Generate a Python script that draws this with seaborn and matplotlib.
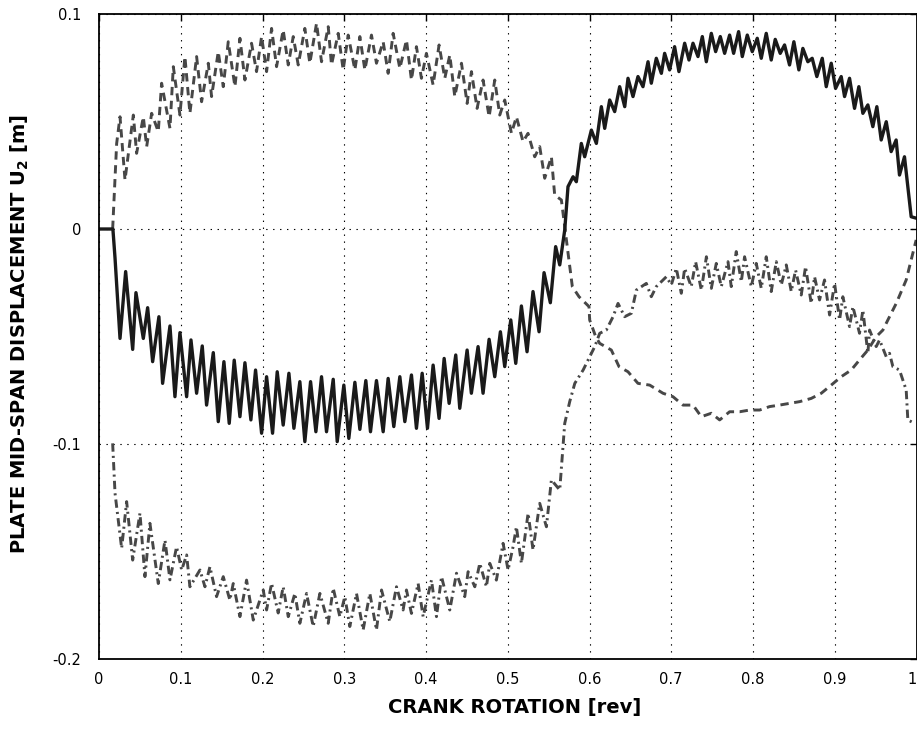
import matplotlib
matplotlib.use("Agg")
import matplotlib.pyplot as plt
import pandas as pd
import seaborn as sns

# ---------------- data ----------------
solid_x = [0.0, 0.017, 0.0196, 0.0257, 0.0326, 0.0412, 0.0452, 0.0542, 0.0595, 0.0656,
           0.0733, 0.0778, 0.0868, 0.0929, 0.099, 0.1072, 0.1125, 0.1194, 0.1263, 0.1316,
           0.1398, 0.1459, 0.1528, 0.1593, 0.1654, 0.1724, 0.1785, 0.1858, 0.1915, 0.1989,
           0.205, 0.2123, 0.218, 0.2253, 0.2323, 0.2384, 0.2457, 0.2518, 0.2588, 0.2653,
           0.2722, 0.2783, 0.2865, 0.2914, 0.2995, 0.3056, 0.313, 0.3191, 0.3264, 0.3321,
           0.3394, 0.3476, 0.3537,
           0.3606, 0.368, 0.3741, 0.3822, 0.3883, 0.3953, 0.4018, 0.4087, 0.416, 0.4222,
           0.4283, 0.4364, 0.4413, 0.4503, 0.4555, 0.4637, 0.4698, 0.4772, 0.4841, 0.491,
           0.4963, 0.5037, 0.5098, 0.5167, 0.5236, 0.5309, 0.5383, 0.5444, 0.5521, 0.5586,
           0.5636,
           0.5697, 0.5737, 0.5799, 0.5839, 0.59, 0.5941, 0.6023, 0.6084, 0.6145, 0.6186,
           0.6247, 0.6308, 0.6369, 0.6431, 0.6471, 0.6532, 0.6593, 0.6654, 0.6716, 0.6756,
           0.6817, 0.6879, 0.6919, 0.698, 0.7041,
           0.7094, 0.7164, 0.7217, 0.7266, 0.7327, 0.738, 0.7429, 0.749, 0.7543, 0.76,
           0.7653, 0.7714, 0.7763, 0.7824, 0.7869, 0.793, 0.7991, 0.8052, 0.8101, 0.8162,
           0.8223, 0.8272, 0.8333, 0.8386, 0.8447, 0.85, 0.8561, 0.861, 0.8671, 0.8724,
           0.8781, 0.8847, 0.8896, 0.8957, 0.901, 0.9079, 0.912, 0.9181, 0.9242, 0.9295,
           0.9344, 0.9405, 0.9466, 0.9515, 0.9568, 0.963, 0.969, 0.9751, 0.9792, 0.9853,
           0.9935, 1.0]
solid_y = [0.0, 0.0, -0.0135, -0.0509, -0.0198, -0.056, -0.0296, -0.0509, -0.0366, -0.0617,
           -0.0408, -0.0718, -0.0451, -0.078, -0.0482, -0.078, -0.0516, -0.0764, -0.0544, -0.0819,
           -0.0575, -0.0896, -0.0617, -0.0904, -0.061, -0.0873, -0.0622, -0.0888, -0.0656, -0.095,
           -0.0687, -0.095, -0.0664, -0.0912, -0.0671, -0.0927, -0.071, -0.0989, -0.071, -0.0943,
           -0.0687, -0.0943, -0.0699, -0.0989, -0.0726, -0.0974, -0.0713, -0.0932, -0.0705, -0.0943,
           -0.0705, -0.0943, -0.0695,
           -0.0919, -0.0687, -0.0896, -0.0679, -0.0927, -0.0671, -0.0927, -0.0633, -0.0881, -0.0602,
           -0.0811, -0.0586, -0.0834, -0.0563, -0.0764, -0.0547, -0.0764, -0.0513, -0.0687, -0.0478,
           -0.064, -0.0423, -0.0625, -0.0358, -0.0571, -0.0291, -0.0478, -0.0203, -0.0343, -0.0082,
           -0.0167,
           -0.0005, 0.0197, 0.0243, 0.022, 0.0398, 0.0336, 0.046, 0.0398, 0.0569, 0.0468,
           0.06, 0.0546, 0.0662, 0.0569, 0.0701, 0.0616, 0.0709, 0.0662, 0.0778, 0.0678,
           0.0794, 0.0724, 0.0817, 0.074, 0.0848,
           0.0732, 0.0864, 0.0786, 0.0864, 0.0802, 0.0895, 0.0778, 0.091, 0.0825, 0.0895,
           0.0817, 0.0902, 0.0817, 0.0918, 0.0802, 0.0902, 0.0825, 0.0887, 0.0794, 0.091,
           0.0786, 0.0882, 0.0817, 0.0856, 0.0763, 0.0871, 0.074, 0.084, 0.0778, 0.0794,
           0.0709, 0.0794, 0.0662, 0.0771, 0.0654, 0.0709, 0.0616, 0.0701, 0.0561, 0.0662,
           0.0538, 0.0577, 0.0476, 0.0569, 0.0414, 0.0499, 0.036, 0.0414, 0.0251, 0.0336,
           0.0057, 0.005]

dashed_x = [0.0167, 0.0216, 0.0257, 0.0318, 0.042, 0.046, 0.0542, 0.0583, 0.0644, 0.0725,
            0.0766, 0.0868, 0.0909, 0.099, 0.1051, 0.1112, 0.1194, 0.1255, 0.1337, 0.1377,
            0.1459, 0.152, 0.1581, 0.1663, 0.1724, 0.1785, 0.1866, 0.1927, 0.1989, 0.205,
            0.2111, 0.2172, 0.2253, 0.2315, 0.2376, 0.2437, 0.2518, 0.2579, 0.2661, 0.2722,
            0.2804, 0.2844, 0.2926, 0.2987, 0.3048, 0.313, 0.3191, 0.3252, 0.3333, 0.3394,
            0.3476,
            0.3537, 0.3598, 0.368, 0.3761, 0.3822, 0.3883, 0.3944, 0.4005, 0.4087, 0.416,
            0.423, 0.4291, 0.4352, 0.4434, 0.4503, 0.4556, 0.4625, 0.4698, 0.4772, 0.4841,
            0.4902, 0.4963, 0.5045, 0.5106, 0.5187, 0.5248, 0.533, 0.5391, 0.5452, 0.5534,
            0.5574, 0.5656,
            0.5738, 0.579, 0.5872, 0.5994, 0.6002, 0.6076, 0.6125, 0.6267, 0.6361, 0.6471,
            0.6593, 0.6736, 0.6899, 0.7021, 0.7143, 0.7266, 0.7368, 0.749, 0.7592, 0.7714,
            0.7837, 0.7959, 0.8081, 0.8203, 0.8325, 0.8447, 0.857, 0.8712, 0.8835, 0.8957,
            0.9079, 0.9201, 0.9303, 0.9405, 0.9507, 0.9589, 0.965, 0.9752, 0.9874, 0.9955,
            0.9996]
dashed_y = [0.0, 0.0398, 0.0522, 0.0228, 0.053, 0.0352, 0.0522, 0.0383, 0.0538, 0.0453,
            0.0678, 0.0468, 0.0755, 0.053, 0.0802, 0.0538, 0.0802, 0.0592, 0.0771, 0.0616,
            0.0825, 0.0662, 0.0871, 0.0662, 0.0887, 0.0693, 0.0864, 0.0732, 0.0895, 0.0732,
            0.0933, 0.0755, 0.0926, 0.0763, 0.0895, 0.0763, 0.0933, 0.0771, 0.0957, 0.0778,
            0.0941, 0.0763, 0.091, 0.074, 0.0902, 0.074, 0.0895, 0.074, 0.0902, 0.0771,
            0.0871,
            0.0724, 0.091, 0.0747, 0.0879, 0.0693, 0.0848, 0.0701, 0.0817, 0.067, 0.0856,
            0.0701, 0.0809, 0.0616, 0.0771, 0.0584, 0.0732, 0.0561, 0.0693, 0.0522, 0.0693,
            0.053, 0.06, 0.0445, 0.0522, 0.0406, 0.0445, 0.0336, 0.0383, 0.0236, 0.0336,
            0.0158, 0.0135,
            -0.0113, -0.0268, -0.0315, -0.0361, -0.0423, -0.0501, -0.0532, -0.0563, -0.064, -0.0664,
            -0.0718, -0.0726, -0.0764, -0.078, -0.0819, -0.0819, -0.0873, -0.0857, -0.0888, -0.085,
            -0.085, -0.0842, -0.0842, -0.0826, -0.0819, -0.0811, -0.0803, -0.0788, -0.0764, -0.0726,
            -0.0687, -0.0656, -0.0609, -0.0563, -0.0501, -0.047, -0.0423, -0.0346, -0.0237, -0.0113,
            -0.0051]

dashdot_x = [0.0167, 0.0196, 0.0277, 0.0338, 0.0412, 0.0501, 0.0562, 0.0623, 0.0725, 0.0807,
             0.0868, 0.0949, 0.1011, 0.1072, 0.1112, 0.1235, 0.1296, 0.1357, 0.1438, 0.152,
             0.1601, 0.1642, 0.1724, 0.1805, 0.1887, 0.2009, 0.205, 0.2111, 0.2192, 0.2253,
             0.2315, 0.2396, 0.2457, 0.2539, 0.262, 0.2702, 0.2804, 0.2865, 0.2946, 0.3007,
             0.3068, 0.315, 0.3231, 0.3313, 0.3394, 0.3456,
             0.3557, 0.3639, 0.372, 0.3761, 0.3822, 0.3904, 0.3965, 0.4067, 0.4128, 0.419,
             0.4291, 0.4373, 0.4474, 0.4515, 0.4597, 0.4658, 0.4739, 0.478, 0.4861, 0.4943,
             0.5004, 0.5065, 0.5106, 0.5167, 0.5249, 0.5309, 0.5391, 0.5473, 0.5534, 0.5636,
             0.5685,
             0.5697, 0.5758, 0.582, 0.5922, 0.6003, 0.6064, 0.6125, 0.6206, 0.6288, 0.6349,
             0.643, 0.6512, 0.6573, 0.6695, 0.6756, 0.6817, 0.694, 0.7001, 0.7062,
             0.7123, 0.7164, 0.7245, 0.7298, 0.7368, 0.743, 0.749, 0.7551, 0.7612, 0.7694,
             0.7734, 0.7795, 0.7857, 0.7897, 0.7979, 0.804, 0.8101, 0.8162, 0.8223, 0.8285,
             0.8346, 0.8407, 0.8468, 0.8521, 0.859, 0.8643, 0.8712, 0.8753, 0.8814, 0.8875,
             0.8937, 0.8998, 0.9059, 0.9099, 0.9181, 0.9222, 0.9303, 0.9344, 0.9405, 0.9426,
             0.9507, 0.9548, 0.963, 0.967, 0.9711, 0.9792, 0.9874, 0.9894, 0.9976]
dashdot_y = [-0.0997, -0.1229, -0.1485, -0.1268, -0.154, -0.1322, -0.1617, -0.1369, -0.1649, -0.1447,
             -0.1632, -0.1478, -0.1586, -0.1516, -0.1664, -0.1586, -0.1664, -0.1571, -0.171, -0.1617,
             -0.1726, -0.1649, -0.1803, -0.1633, -0.1819, -0.1679, -0.1772, -0.1648, -0.1786, -0.1664,
             -0.1803, -0.1695, -0.1834, -0.1695, -0.1849, -0.1695, -0.1834, -0.1671, -0.1803, -0.171,
             -0.1849, -0.1695, -0.1865, -0.1695, -0.1865, -0.1679,
             -0.1826, -0.1664, -0.1772, -0.1679, -0.1788, -0.1649, -0.1803, -0.1633, -0.1803, -0.1617,
             -0.1772, -0.1601, -0.171, -0.1594, -0.1664, -0.1555, -0.1664, -0.1555, -0.1633, -0.1462,
             -0.1586, -0.1478, -0.1385, -0.1555, -0.1322, -0.1493, -0.1276, -0.1385, -0.1167, -0.1214,
             -0.0966,
             -0.0904, -0.0803, -0.0718, -0.0656, -0.0594, -0.0547, -0.0485, -0.047, -0.0408, -0.0346,
             -0.0408, -0.0392, -0.0284, -0.0253, -0.0315, -0.0268, -0.0222, -0.026, -0.0183,
             -0.0299, -0.0183, -0.0268, -0.0152, -0.0284, -0.0129, -0.0276, -0.016, -0.0268, -0.0152,
             -0.0268, -0.0105, -0.0245, -0.0129, -0.0268, -0.016, -0.0276, -0.0129, -0.0291, -0.0152,
             -0.026, -0.0167, -0.0291, -0.0191, -0.0307, -0.0175, -0.0346, -0.0222, -0.033, -0.0237,
             -0.04, -0.0253, -0.0423, -0.0315, -0.0454, -0.0361, -0.0485, -0.0377, -0.0578, -0.047,
             -0.0547, -0.0516, -0.0594, -0.0578, -0.064, -0.0656, -0.0749, -0.0888, -0.0904]

xtick_vals = [0.0, 0.1, 0.2, 0.3, 0.4, 0.5, 0.6, 0.7, 0.8, 0.9, 1.0]
xtick_labels = ["0", "0.1", "0.2", "0.3", "0.4", "0.5", "0.6", "0.7", "0.8", "0.9", "1"]
ytick_vals = [-0.2, -0.1, 0.0, 0.1]
ytick_labels = ["-0.2", "-0.1", "0", "0.1"]

# ---------------- style ----------------
sns.set_theme(style="white")
plt.rcParams["font.family"] = ["DejaVu Sans"]
plt.rcParams["lines.scale_dashes"] = False
plt.rcParams["mathtext.default"] = "bf"

fig = plt.figure(figsize=(9.17, 7.29), dpi=100)
ax = fig.add_axes([99 / 917, 70 / 729, 817.5 / 917, 645 / 729])

gray = "#474747"
df_dash = pd.DataFrame({"rev": dashed_x, "u2": dashed_y})
df_dd = pd.DataFrame({"rev": dashdot_x, "u2": dashdot_y})
df_solid = pd.DataFrame({"rev": solid_x, "u2": solid_y})

sns.lineplot(data=df_dash, x="rev", y="u2", ax=ax, color=gray, linewidth=2.1,
             estimator=None, sort=False, legend=False)
ln = ax.lines[-1]
ln.set_linestyle((0, (6, 4)))
ln.set_dash_joinstyle("round")
sns.lineplot(data=df_dd, x="rev", y="u2", ax=ax, color=gray, linewidth=2.1,
             estimator=None, sort=False, legend=False)
ln = ax.lines[-1]
ln.set_linestyle((0, (6, 3, 1.5, 3)))
ln.set_dash_joinstyle("round")
sns.lineplot(data=df_solid, x="rev", y="u2", ax=ax, color="#1a1a1a", linewidth=2.4,
             estimator=None, sort=False, legend=False)
ln = ax.lines[-1]
ln.set_solid_joinstyle("round")
ln.set_solid_capstyle("round")

ax.set_xlim(0, 1)
ax.set_ylim(-0.2, 0.1)
ax.set_xticks(xtick_vals)
ax.set_xticklabels(xtick_labels)
ax.set_yticks(ytick_vals)
ax.set_yticklabels(ytick_labels)
ax.get_xticklabels()[-1].set_ha("right")

ax.set_axisbelow(True)
ax.grid(True, color="black", linestyle=(0, (1, 4)), linewidth=0.8)
for s in ax.spines.values():
    s.set_color("black")
    s.set_linewidth(1.3)
    s.set_visible(True)

ax.tick_params(axis="both", direction="in", length=5, width=1, colors="black",
               top=True, right=True, labelsize=10.5)
ax.tick_params(axis="x", pad=9)
ax.tick_params(axis="y", pad=13)

ax.set_xlabel("CRANK ROTATION [rev]", fontsize=14, fontweight="bold", color="black")
ax.set_ylabel(r"PLATE MID-SPAN DISPLACEMENT U$_{2}$ [m]", fontsize=14,
              fontweight="bold", color="black")
ax.xaxis.set_label_coords(0.508, -0.061)
ax.yaxis.set_label_coords(-0.0966, 0.5047)
ax.yaxis.label.set_va("center")

fig.savefig("out.png", dpi=100)
